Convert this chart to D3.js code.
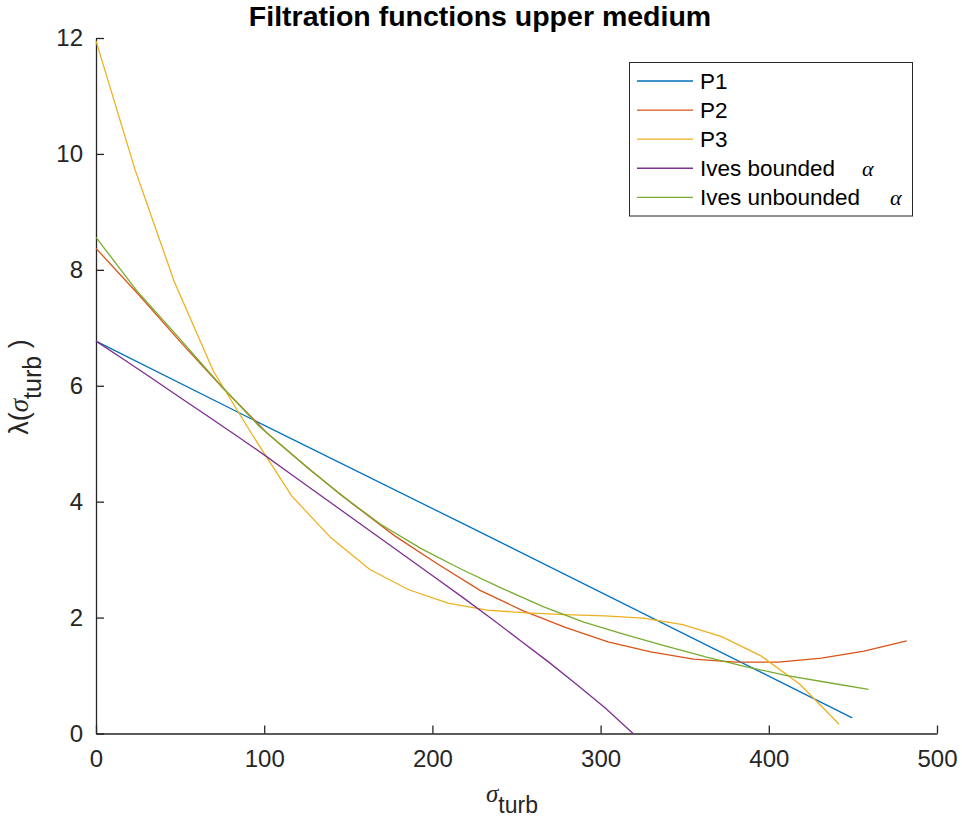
<!DOCTYPE html>
<meta charset="utf-8">
<html>
<script src="https://d3js.org/d3.v7.min.js"></script>
<style>
  body { margin: 0; background: white; }
  text { font-family: "Liberation Sans", Arial, sans-serif; }
  .greek { font-family: "Liberation Serif", "Times New Roman", serif; font-style: italic; }
</style>
<body>
<div id="chart"></div>
<script>
// data
const xTicks = [0, 100, 200, 300, 400, 500];
const yTicks = [0, 2, 4, 6, 8, 10, 12];

const sigP1 = [0, 91.6, 222.4, 449.6];
const lamP1 = [6.77, 5.44, 3.56, 0.27];

const sigP2 = [0, 25.4, 50.7, 76.1, 101.5, 126.8, 152.2, 177.6, 202.9, 228.3,
               253.7, 279, 304.4, 329.8, 355.2, 380.5, 405.9, 431.3, 456.6, 482];
const lamP2 = [8.37, 7.57, 6.74, 5.94, 5.19, 4.56, 3.97, 3.41, 2.93, 2.47,
               2.12, 1.83, 1.58, 1.41, 1.285, 1.23, 1.23, 1.30, 1.42, 1.60];

const sigP3 = [0, 23.3, 46.5, 69.8, 93, 116.3, 139.5, 162.8, 186, 209.3,
               232.5, 255.8, 279, 302.3, 325.5, 348.8, 372, 395.3, 418.5, 441.8];
const lamP3 = [11.95, 9.72, 7.8, 6.25, 5.15, 4.10, 3.38, 2.83, 2.48, 2.25,
               2.13, 2.08, 2.05, 2.03, 1.99, 1.88, 1.67, 1.34, 0.85, 0.16];

const sigBounded = [0, 16.8, 33.6, 50.4, 67.2, 84, 100.8, 117.6, 134.4, 151.2,
                    168, 184.8, 201.6, 218.4, 235.2, 252, 268.8, 285.6, 302.4, 319.3];
const lamBounded = [6.77, 6.45, 6.12, 5.79, 5.46, 5.13, 4.79, 4.44, 4.09, 3.74,
                    3.39, 3.04, 2.69, 2.34, 1.98, 1.61, 1.24, 0.85, 0.45, 0.0];

const sigUnbounded = [0, 24.2, 48.3, 72.5, 96.7, 120.8, 145, 169.2, 193.3, 217.5,
                      241.7, 265.8, 290, 314.1, 338.3, 362.5, 386.7, 410.8, 435, 459.2];
const lamUnbounded = [8.56, 7.64, 6.86, 6.06, 5.31, 4.71, 4.13, 3.61, 3.19, 2.83,
                      2.50, 2.19, 1.92, 1.71, 1.51, 1.32, 1.15, 1.00, 0.88, 0.76];

const seriesNames = ["P1", "P2", "P3", "Ives bounded", "Ives unbounded"];
const colors = ["#0072BD", "#D95319", "#EDB120", "#7E2F8E", "#77AC30"];

const series = [
  [sigP1, lamP1], [sigP2, lamP2], [sigP3, lamP3],
  [sigBounded, lamBounded], [sigUnbounded, lamUnbounded]
].map(([s, l], i) => ({ name: seriesNames[i], color: colors[i], pts: s.map((v, j) => [v, l[j]]) }));

const W = 962, H = 827;
const svg = d3.select("#chart").append("svg")
  .attr("width", W).attr("height", H);

const x = d3.scaleLinear().domain([0, 500]).range([96, 937]);
const y = d3.scaleLinear().domain([0, 12]).range([733.5, 38]);
const axisCol = "#262626";

// x axis
const gx = svg.append("g")
  .attr("transform", `translate(0, ${y(0)})`)
  .call(d3.axisBottom(x).tickValues(xTicks).tickSizeInner(-8).tickSizeOuter(0).tickPadding(16));
// y axis
const gy = svg.append("g")
  .attr("transform", `translate(${x(0)}, 0)`)
  .call(d3.axisLeft(y).tickValues(yTicks).tickSizeInner(-8).tickSizeOuter(0).tickPadding(13));

[gx, gy].forEach(g => {
  g.select(".domain").attr("stroke", axisCol).attr("stroke-width", 1.3);
  g.selectAll(".tick line").attr("stroke", axisCol).attr("stroke-width", 1.3);
  g.selectAll(".tick text").attr("fill", axisCol)
    .style("font-family", "Liberation Sans, Arial, sans-serif").style("font-size", "24px");
});

// lines
const line = d3.line().x(d => x(d[0])).y(d => y(d[1]));
svg.append("g").selectAll("path")
  .data(series)
  .join("path")
    .attr("d", d => line(d.pts))
    .attr("fill", "none")
    .attr("stroke", d => d.color)
    .attr("stroke-width", 1.3);

// title
svg.append("text")
  .attr("x", 480).attr("y", 26)
  .attr("text-anchor", "middle")
  .style("font-size", "28.5px").style("font-weight", "bold")
  .text("Filtration functions upper medium");

// x label
const xl = svg.append("text")
  .attr("x", 512).attr("y", 802)
  .attr("text-anchor", "middle")
  .attr("fill", axisCol)
  .style("font-size", "25px");
xl.append("tspan").attr("class", "greek").text("σ");
xl.append("tspan").attr("dy", 11).style("font-size", "23px").text("turb");

// y label
const yl = svg.append("text")
  .attr("transform", "translate(28, 387) rotate(-90)")
  .attr("text-anchor", "middle")
  .attr("fill", axisCol)
  .style("font-size", "27px");
yl.append("tspan").text("λ(");
yl.append("tspan").attr("class", "greek").text("σ");
yl.append("tspan").attr("dy", 13).style("font-size", "25px").text("turb");
yl.append("tspan").attr("dy", -13).text(" )");

// legend
const lg = svg.append("g");
lg.append("rect")
  .attr("x", 629.5).attr("y", 62.5).attr("width", 283).attr("height", 153.5)
  .attr("fill", "white").attr("stroke", axisCol).attr("stroke-width", 1);
const rowY = d3.scaleLinear().domain([0, 4]).range([81, 197.3]);
const alphaX = [null, null, null, 862, 890];
series.forEach((s, i) => {
  const yy = rowY(i);
  lg.append("line")
    .attr("x1", 637).attr("x2", 693).attr("y1", yy).attr("y2", yy)
    .attr("stroke", s.color).attr("stroke-width", 1.3);
  lg.append("text")
    .attr("x", 700).attr("y", yy).attr("dy", "0.35em")
    .style("font-size", "22.5px").attr("fill", "black")
    .text(s.name);
  if (alphaX[i]) {
    lg.append("text")
      .attr("x", alphaX[i]).attr("y", yy).attr("dy", "0.35em")
      .attr("class", "greek")
      .style("font-size", "22px").attr("fill", "black")
      .text("α");
  }
});
</script>
</body>
</html>
